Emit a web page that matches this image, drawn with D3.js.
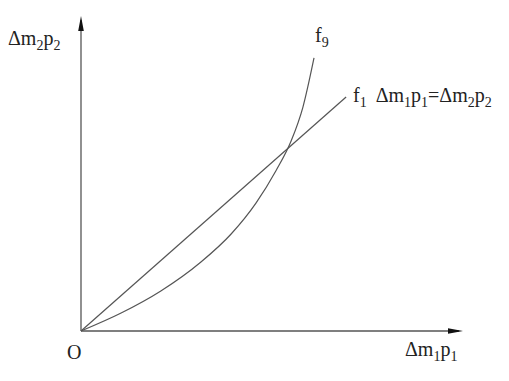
<!DOCTYPE html>
<html>
<head>
<meta charset="utf-8">
<script src="https://cdn.jsdelivr.net/npm/d3@7"></script>
<style>
  body { margin: 0; background: #fff; }
  text { font-family: "Liberation Serif", "DejaVu Serif", serif; fill: #222; }
</style>
</head>
<body>
<div id="chart"></div>
<script>
// curve f9 (convex) and straight line f1 through the origin, arbitrary units
var f9X = [0, 1.05, 2.09, 3.14, 3.93, 4.58, 5.10, 5.50, 5.81, 6.10];
var f9Y = [0, 0.57, 1.27, 2.19, 3.08, 4.06, 5.08, 6.03, 7.11, 8.67];
var f1X = [0, 6.94];
var f1Y = [0, 7.43];

var svgWidth = 509;
var svgHeight = 381;

var svg = d3.select("#chart")
    .append("svg")
    .attr("width", svgWidth)
    .attr("height", svgHeight);

var x = d3.scaleLinear().domain([0, 10]).range([81, 463]);
var y = d3.scaleLinear().domain([0, 10]).range([331, 16]);

var ink = "#555";

// axes
svg.append("line")
    .attr("x1", x(0)).attr("y1", y(0))
    .attr("x2", x(10) - 4).attr("y2", y(0))
    .attr("stroke", ink).attr("stroke-width", 1.3);
svg.append("line")
    .attr("x1", x(0)).attr("y1", y(0))
    .attr("x2", x(0)).attr("y2", y(10) + 4)
    .attr("stroke", ink).attr("stroke-width", 1.3);

// arrow heads
svg.append("path")
    .attr("d", `M${x(10)},${y(0)} L${x(10) - 15},${y(0) - 2.8} L${x(10) - 15},${y(0) + 2.8} Z`)
    .attr("fill", "#111");
svg.append("path")
    .attr("d", `M${x(0)},${y(10)} L${x(0) - 2.8},${y(10) + 15} L${x(0) + 2.8},${y(10) + 15} Z`)
    .attr("fill", "#111");

var f9 = f9X.map((v, i) => [v, f9Y[i]]);
var f1 = f1X.map((v, i) => [v, f1Y[i]]);

svg.append("path")
    .datum(f9)
    .attr("d", d3.line().x(d => x(d[0])).y(d => y(d[1])).curve(d3.curveMonotoneX))
    .attr("fill", "none")
    .attr("stroke", ink)
    .attr("stroke-width", 1.2);

svg.append("path")
    .datum(f1)
    .attr("d", d3.line().x(d => x(d[0])).y(d => y(d[1])))
    .attr("fill", "none")
    .attr("stroke", ink)
    .attr("stroke-width", 1.2);

// text with subscripts: parts = [text, isSub, dx]
function label(px, py, parts) {
    var t = svg.append("text")
        .attr("x", px)
        .attr("y", py)
        .style("font-size", "20px");
    var down = false;
    parts.forEach(function (p) {
        var s = t.append("tspan").text(p[0]);
        if (p[2]) s.attr("dx", p[2]);
        if (p[1]) {
            s.style("font-size", "14px").attr("dy", down ? 0 : 5);
            down = true;
        } else {
            s.attr("dy", down ? -5 : 0);
            down = false;
        }
    });
    return t;
}

label(8, 45, [["Δm"], ["2", 1], ["p"], ["2", 1]]);
label(67, 359, [["O"]]);
label(405, 356, [["Δm"], ["1", 1], ["p"], ["1", 1]]);
label(315, 42, [["f"], ["9", 1]]);
label(353, 102, [["f"], ["1", 1], ["Δm", 0, 9], ["1", 1], ["p"], ["1", 1],
    ["=Δm"], ["2", 1], ["p"], ["2", 1]]);
</script>
</body>
</html>
